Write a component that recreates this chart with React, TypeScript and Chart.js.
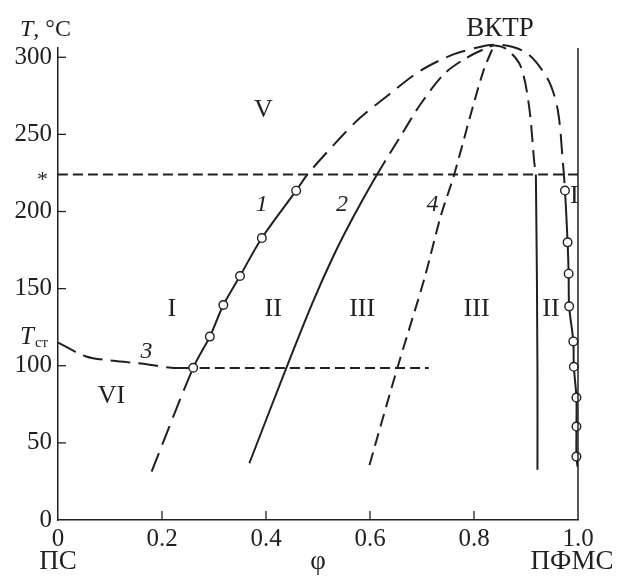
import React, { useEffect, useRef } from "react";
import { Chart, registerables } from "chart.js";
Chart.register(...registerables);

// ---- axes ----
const xTickValues = [0, 0.2, 0.4, 0.6, 0.8, 1.0];
const yTickValues = [0, 50, 100, 150, 200, 250, 300];
const xMax = 1.0;
const yMax = 306;

// ---- horizontal levels ----
const starLevel = 224; // "*" temperature
const glassLevel = 98.5; // horizontal dashed line near Tg
const glassLineX = [0.244, 0.713];

// ---- binodal (curves 1 and right branch), solid only where measured ----
const binodal: [number, number][] = [
  [0.18, 31.4],
  [0.26, 98.7],
  [0.292, 118.9],
  [0.318, 139.4],
  [0.35, 158.2],
  [0.392, 182.8],
  [0.458, 213.5],
  [0.482, 225],
  [0.543, 247.8],
  [0.581, 260.8],
  [0.633, 274.9],
  [0.691, 290],
  [0.736, 298.3],
  [0.774, 303.4],
  [0.842, 308.2],
  [0.9, 303],
  [0.942, 285.7],
  [0.961, 266],
  [0.971, 231.6],
  [0.975, 213.6],
  [0.98, 180],
  [0.982, 159.7],
  [0.983, 138.5],
  [0.991, 115.8],
  [0.992, 99.3],
  [0.997, 79.4],
  [0.997, 60.6],
  [0.997, 41.1],
  [0.999, 34.6],
];
// measured points (circles)
const leftCircles: [number, number][] = [
  [0.26, 98.7],
  [0.292, 118.9],
  [0.318, 139.4],
  [0.35, 158.2],
  [0.392, 182.8],
  [0.458, 213.5],
];
const rightCircles: [number, number][] = [
  [0.975, 213.6],
  [0.98, 180],
  [0.982, 159.7],
  [0.983, 138.5],
  [0.991, 115.8],
  [0.992, 99.3],
  [0.997, 79.4],
  [0.997, 60.6],
  [0.997, 41.1],
];

// ---- spinodal (curve 2 and right branch) ----
const spinodal: [number, number][] = [
  [0.368, 36.8],
  [0.438, 97.7],
  [0.489, 140.5],
  [0.529, 170.7],
  [0.568, 196.6],
  [0.613, 223.7],
  [0.659, 248.9],
  [0.697, 269.5],
  [0.742, 289],
  [0.781, 298.7],
  [0.826, 306.3],
  [0.84, 307.6],
  [0.864, 305],
  [0.89, 294],
  [0.906, 268],
  [0.916, 231.6],
  [0.919, 224],
  [0.922, 97.4],
  [0.922, 32.5],
];

// ---- curve 3 (Tg) ----
const curve3: [number, number][] = [
  [0, 115],
  [0.054, 106],
  [0.106, 103.2],
  [0.164, 101.3],
  [0.218, 98.7],
  [0.26, 98.5],
];

// ---- curve 4 ----
const curve4: [number, number][] = [
  [0.599, 35.7],
  [0.652, 97.9],
  [0.704, 155.8],
  [0.736, 197],
  [0.761, 223],
  [0.797, 267],
  [0.819, 292],
  [0.838, 307.4],
];

// ---- text labels ----
const regionLabels = [
  { text: "V", x: 0.395, y: 266 },
  { text: "I", x: 0.219, y: 136.4 },
  { text: "II", x: 0.414, y: 136.4 },
  { text: "III", x: 0.585, y: 136.4 },
  { text: "III", x: 0.805, y: 136.4 },
  { text: "II", x: 0.948, y: 136.4 },
  { text: "I", x: 0.993, y: 210 },
  { text: "VI", x: 0.103, y: 80 },
];
const curveLabels = [
  { text: "1", x: 0.392, y: 204.5 },
  { text: "2", x: 0.546, y: 204.5 },
  { text: "3", x: 0.17, y: 109 },
  { text: "4", x: 0.72, y: 204.5 },
];
const tgLabelValue = 115;
const criticalLabel = "ВКТР";
const criticalLabelX = 0.85;
const xLeftName = "ПС";
const xAxisName = "φ";
const xRightName = "ПФМС";

const INK = "#231f20";
const SERIF = "'Liberation Serif', 'DejaVu Serif', serif";

const toXY = (arr: [number, number][]) => arr.map(([x, y]) => ({ x, y }));

const lineDs = (data: [number, number][], dash: number[], extra: any = {}) => ({
  data: toXY(data),
  showLine: true,
  borderColor: INK,
  borderWidth: 2,
  borderDash: dash,
  pointRadius: 0,
  tension: 0.3,
  fill: false,
  clip: false as any,
  ...extra,
});

const circlesDs = (data: [number, number][]) => ({
  data: toXY(data),
  showLine: false,
  pointRadius: 4.3,
  pointBorderWidth: 1.4,
  pointBackgroundColor: "#ffffff",
  pointBorderColor: INK,
  clip: false as any,
});

const binodalDash = [20, 9];
const spinodalDash = [17, 8];

const decorPlugin = {
  id: "decor",
  afterDatasetsDraw(chart: any) {
    const { ctx, chartArea, scales } = chart;
    const xs = scales.x;
    const ys = scales.y;
    ctx.save();
    ctx.strokeStyle = INK;
    ctx.fillStyle = INK;
    // right frame line at x = 1
    ctx.lineWidth = 1.5;
    const xr = xs.getPixelForValue(xMax);
    ctx.beginPath();
    ctx.moveTo(xr, chartArea.bottom);
    ctx.lineTo(xr, chartArea.top);
    ctx.stroke();
    // inward ticks
    ctx.lineWidth = 1.3;
    xTickValues.forEach((v) => {
      if (v === 0 || v === xMax) return;
      const px = xs.getPixelForValue(v);
      ctx.beginPath();
      ctx.moveTo(px, chartArea.bottom);
      ctx.lineTo(px, chartArea.bottom - 9);
      ctx.stroke();
    });
    yTickValues.forEach((v) => {
      if (v === 0) return;
      const py = ys.getPixelForValue(v);
      ctx.beginPath();
      ctx.moveTo(chartArea.left, py);
      ctx.lineTo(chartArea.left + 8, py);
      ctx.stroke();
    });

    // region labels
    ctx.textAlign = "center";
    ctx.textBaseline = "middle";
    ctx.font = `26px ${SERIF}`;
    regionLabels.forEach((l) => {
      ctx.fillText(l.text, xs.getPixelForValue(l.x), ys.getPixelForValue(l.y));
    });
    ctx.font = `italic 24px ${SERIF}`;
    curveLabels.forEach((l) => {
      ctx.fillText(l.text, xs.getPixelForValue(l.x), ys.getPixelForValue(l.y));
    });

    // critical point label
    ctx.textBaseline = "alphabetic";
    ctx.font = `27px ${SERIF}`;
    ctx.fillText(criticalLabel, xs.getPixelForValue(criticalLabelX), chartArea.top - 12);

    // axis title T, °C
    ctx.textAlign = "left";
    ctx.font = `italic 24px ${SERIF}`;
    const tx = 20;
    const ty = chartArea.top - 12;
    ctx.fillText("T", tx, ty);
    const tw = ctx.measureText("T").width;
    ctx.font = `24px ${SERIF}`;
    ctx.fillText(", °C", tx + tw, ty);

    // "*" at star level
    ctx.textAlign = "right";
    ctx.font = `22px ${SERIF}`;
    ctx.fillText("*", chartArea.left - 10, ys.getPixelForValue(starLevel) + 12);

    // T_ст label
    ctx.textAlign = "left";
    const tgy = ys.getPixelForValue(tgLabelValue) + 1;
    ctx.font = `italic 25px ${SERIF}`;
    ctx.fillText("T", 20, tgy);
    const tgw = ctx.measureText("T").width;
    ctx.font = `15px ${SERIF}`;
    ctx.fillText("ст", 20 + tgw + 1, tgy + 3);

    // bottom names
    ctx.textAlign = "center";
    ctx.font = `27px ${SERIF}`;
    const by = chartArea.bottom + 49;
    ctx.fillText(xLeftName, xs.getPixelForValue(0), by);
    ctx.fillText(xAxisName, xs.getPixelForValue(0.5), by);
    ctx.fillText(xRightName, xs.getPixelForValue(xMax) - 6, by);
    ctx.restore();
  },
};

export default function App() {
  const ref = useRef<HTMLCanvasElement | null>(null);
  useEffect(() => {
    if (!ref.current) return;
    const binodalSolid = (c: any) => {
      const y0 = c.p0.parsed.y;
      const y1 = c.p1.parsed.y;
      const x0 = c.p0.parsed.x;
      const lo = Math.min(y0, y1);
      const hi = Math.max(y0, y1);
      return (x0 > 0.9 && hi <= 214) || (lo >= 98 && hi <= 214);
    };
    const spinodalSolid = (c: any) => Math.max(c.p0.parsed.y, c.p1.parsed.y) <= starLevel + 0.5;
    const chart = new Chart(ref.current, {
      type: "scatter",
      data: {
        datasets: [
          circlesDs(leftCircles),
          circlesDs(rightCircles),
          lineDs(binodal, [], {
            segment: { borderDash: (c: any) => (binodalSolid(c) ? [] : binodalDash) },
          }),
          lineDs(spinodal, [], {
            segment: { borderDash: (c: any) => (spinodalSolid(c) ? [] : spinodalDash) },
          }),
          lineDs(curve3, [20, 8]),
          lineDs(curve4, [13, 7]),
          lineDs(
            [
              [glassLineX[0], glassLevel],
              [glassLineX[1], glassLevel],
            ],
            [10, 5]
          ),
          lineDs(
            [
              [0, starLevel],
              [xMax, starLevel],
            ],
            [10, 5]
          ),
        ] as any,
      },
      options: {
        animation: false,
        responsive: false,
        events: [],
        layout: { padding: { left: 0, top: 48, right: 40, bottom: 0 } },
        plugins: { legend: { display: false }, tooltip: { enabled: false } },
        scales: {
          x: {
            type: "linear",
            min: 0,
            max: xMax,
            grid: { display: false, drawTicks: false },
            border: { display: true, color: INK, width: 1.5 },
            afterBuildTicks: (s: any) => {
              s.ticks = xTickValues.map((v) => ({ value: v }));
            },
            afterFit: (s: any) => {
              s.height = 57;
            },
            ticks: {
              color: INK,
              padding: 4,
              font: { family: SERIF, size: 25 },
              maxRotation: 0,
              autoSkip: false,
              callback: (v: any) => (v === 0 ? "0" : Number(v).toFixed(1)),
            },
          },
          y: {
            type: "linear",
            min: 0,
            max: yMax,
            grid: { display: false, drawTicks: false },
            border: { display: true, color: INK, width: 1.5 },
            afterBuildTicks: (s: any) => {
              s.ticks = yTickValues.map((v) => ({ value: v }));
            },
            afterFit: (s: any) => {
              s.width = 58;
            },
            ticks: {
              color: INK,
              padding: 6,
              font: { family: SERIF, size: 25 },
              autoSkip: false,
              callback: (v: any) => String(v),
            },
          },
        },
      },
      plugins: [decorPlugin],
    });
    return () => chart.destroy();
  }, []);
  return (
    <div style={{ position: "fixed", left: 0, top: 0, width: 618, height: 577, background: "#fff" }}>
      <canvas ref={ref} width={618} height={577} style={{ display: "block" }} />
    </div>
  );
}
